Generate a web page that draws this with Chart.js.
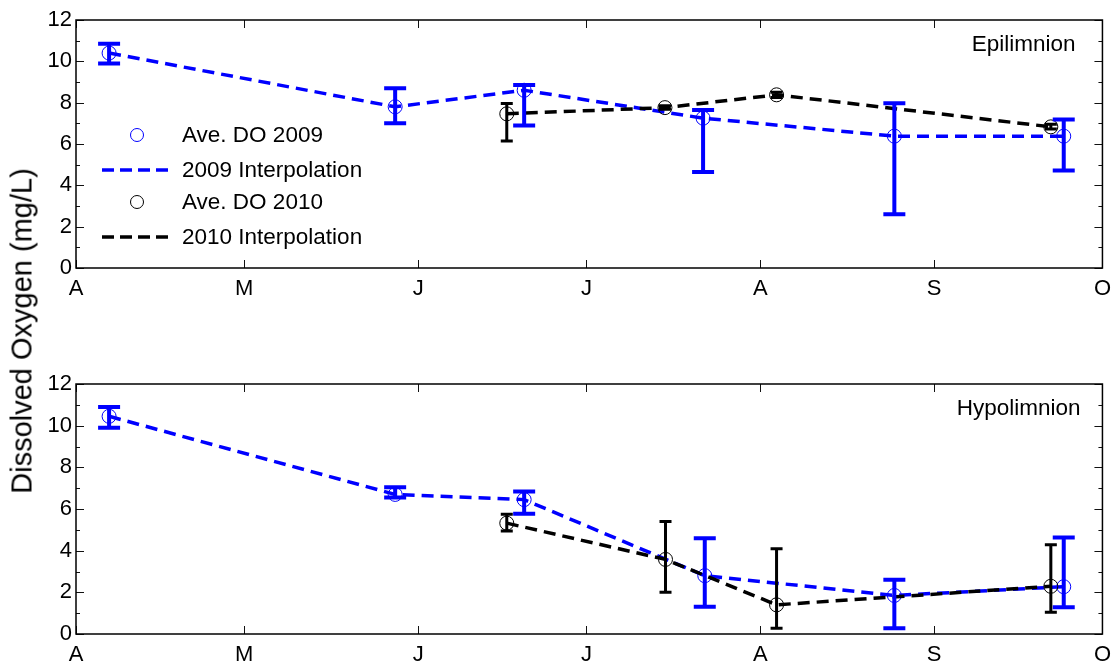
<!DOCTYPE html>
<html>
<head>
<meta charset="utf-8">
<script src="https://cdn.jsdelivr.net/npm/chart.js@4.4.1/dist/chart.umd.min.js"></script>
<style>
  html, body { margin: 0; padding: 0; background: #fff; }
  #wrap { position: relative; width: 1119px; height: 664px; }
  .panel { position: absolute; left: 0; }
  #epi-chart { top: 0; }
  #hypo-chart { top: 364px; }
  #ytitle {
    position: absolute; left: 22px; top: 331px;
    transform: translate(-50%, -50%) rotate(-90deg);
    font: 29px "Liberation Sans", Arial, sans-serif;
    white-space: nowrap; color: #000;
  }
</style>
</head>
<body>
<div id="wrap">
  <canvas id="epi-chart" class="panel" width="1119" height="300"></canvas>
  <canvas id="hypo-chart" class="panel" width="1119" height="300"></canvas>
  <div id="ytitle">Dissolved Oxygen (mg/L)</div>
</div>
<script>
// x axis: days after 1 April
const monthDays = [0, 30, 61, 91, 122, 153, 183];
const monthLabels = ["A", "M", "J", "J", "A", "S", "O"];
const legendLabels = ["Ave. DO 2009", "2009 Interpolation", "Ave. DO 2010", "2010 Interpolation"];

// Epilimnion
const epiDays2009 = [5.9, 56.9, 79.9, 111.8, 145.9, 176.1];
const epiDO2009 = [10.4, 7.8, 8.6, 7.25, 6.38, 6.38];
const epiLow2009 = [9.9, 7.0, 6.9, 4.65, 2.6, 4.72];
const epiHigh2009 = [10.85, 8.7, 8.85, 7.64, 7.97, 7.19];
const epiDays2010 = [76.8, 105.0, 124.9, 173.8];
const epiDO2010 = [7.46, 7.76, 8.38, 6.83];
const epiLow2010 = [6.14, 7.68, 8.25, 6.72];
const epiHigh2010 = [7.96, 7.85, 8.5, 6.95];

// Hypolimnion
const hypoDays2009 = [5.9, 56.9, 79.9, 112.1, 145.9, 176.1];
const hypoDO2009 = [10.45, 6.7, 6.45, 2.8, 1.85, 2.27];
const hypoLow2009 = [9.9, 6.55, 5.77, 1.31, 0.28, 1.28];
const hypoHigh2009 = [10.9, 7.05, 6.84, 4.6, 2.6, 4.63];
const hypoDays2010 = [76.8, 105.1, 124.9, 173.8];
const hypoDO2010 = [5.32, 3.58, 1.4, 2.29];
const hypoLow2010 = [4.95, 2.0, 0.28, 1.04];
const hypoHigh2010 = [5.75, 5.4, 4.09, 4.28];

const FONT = "'Liberation Sans', Arial, sans-serif";
const BLUE = "#0000ff";
const BLACK = "#000000";

const toPoints = (days, vals) => days.map((d, i) => ({ x: d, y: vals[i] }));

const errorBarPlugin = {
  id: "errorBars",
  afterDatasetsDraw(chart) {
    const { ctx, scales: { x, y } } = chart;
    const bars = chart.options.plugins.errorBars.sets;
    ctx.save();
    bars.forEach((set) => {
      ctx.strokeStyle = set.color;
      ctx.lineWidth = set.width;
      set.days.forEach((d, i) => {
        const px = x.getPixelForValue(d);
        const top = y.getPixelForValue(set.high[i]);
        const bot = y.getPixelForValue(set.low[i]);
        ctx.beginPath();
        ctx.moveTo(px, top);
        ctx.lineTo(px, bot);
        ctx.moveTo(px - set.cap, top);
        ctx.lineTo(px + set.cap, top);
        ctx.moveTo(px - set.cap, bot);
        ctx.lineTo(px + set.cap, bot);
        ctx.stroke();
      });
    });
    ctx.restore();
  },
};

const framePlugin = {
  id: "frame",
  afterDraw(chart) {
    const { ctx, chartArea: a, scales: { x, y } } = chart;
    const opts = chart.options.plugins.frame;
    ctx.save();
    ctx.strokeStyle = "#111";
    ctx.lineWidth = 1;
    // y ticks, inward on both sides
    ctx.beginPath();
    for (let v = 0; v <= 12; v++) {
      const py = Math.round(y.getPixelForValue(v)) + 0.5;
      const len = v % 2 === 0 ? 8 : 4;
      ctx.moveTo(a.left, py);
      ctx.lineTo(a.left + len, py);
      ctx.moveTo(a.right, py);
      ctx.lineTo(a.right - len, py);
    }
    // x ticks at month starts
    monthDays.forEach((d) => {
      const px = Math.round(x.getPixelForValue(d)) + 0.5;
      ctx.moveTo(px, a.top);
      ctx.lineTo(px, a.top + 8);
      ctx.moveTo(px, a.bottom);
      ctx.lineTo(px, a.bottom - 8);
    });
    ctx.stroke();
    ctx.lineWidth = 1.5;
    ctx.strokeStyle = "#000";
    ctx.strokeRect(a.left, a.top, a.right - a.left, a.bottom - a.top);

    // panel name
    ctx.fillStyle = "#000";
    ctx.font = "22.5px " + FONT;
    ctx.textAlign = "right";
    ctx.textBaseline = "middle";
    ctx.fillText(opts.name, a.right - opts.nameInset, a.top + 25);

    if (opts.legend) {
      const rows = [
        { kind: "marker", color: BLUE, y: 135 },
        { kind: "line", color: BLUE, y: 170 },
        { kind: "marker", color: BLACK, y: 202 },
        { kind: "line", color: BLACK, y: 237 },
      ];
      rows.forEach((r, i) => {
        ctx.strokeStyle = r.color;
        if (r.kind === "marker") {
          ctx.lineWidth = 1;
          ctx.setLineDash([]);
          ctx.beginPath();
          ctx.arc(137, r.y, 6.5, 0, Math.PI * 2);
          ctx.stroke();
        } else {
          ctx.lineWidth = 3.5;
          ctx.setLineDash([12, 6]);
          ctx.beginPath();
          ctx.moveTo(102, r.y);
          ctx.lineTo(171, r.y);
          ctx.stroke();
          ctx.setLineDash([]);
        }
        ctx.fillStyle = "#000";
        ctx.textAlign = "left";
        ctx.fillText(legendLabels[i], 182, r.y + 1);
      });
    }
    ctx.restore();
  },
};

function makePanel(canvasId, name, nameInset, withLegend, xHeight, s09, s10) {
  return new Chart(document.getElementById(canvasId), {
    type: "scatter",
    data: {
      datasets: [
        {
          label: legendLabels[3],
          data: toPoints(s10.days, s10.vals),
          showLine: true,
          borderColor: BLACK,
          borderWidth: 3.5,
          borderDash: [12, 7],
          pointRadius: 0,
          order: 0,
        },
        {
          label: legendLabels[2],
          data: toPoints(s10.days, s10.vals),
          showLine: false,
          pointRadius: 7,
          pointBorderWidth: 1,
          pointBorderColor: BLACK,
          pointBackgroundColor: "rgba(0,0,0,0)",
          order: 1,
        },
        {
          label: legendLabels[1],
          data: toPoints(s09.days, s09.vals),
          showLine: true,
          borderColor: BLUE,
          borderWidth: 3.5,
          borderDash: [12, 7],
          pointRadius: 0,
          order: 2,
        },
        {
          label: legendLabels[0],
          data: toPoints(s09.days, s09.vals),
          showLine: false,
          pointRadius: 7,
          pointBorderWidth: 1,
          pointBorderColor: BLUE,
          pointBackgroundColor: "rgba(0,0,0,0)",
          order: 3,
        },
      ],
    },
    options: {
      responsive: false,
      animation: false,
      devicePixelRatio: 1,
      layout: { padding: { top: 20, right: 11, left: 0, bottom: 0 } },
      scales: {
        x: {
          type: "linear",
          min: 0,
          max: 183,
          afterBuildTicks: (s) => {
            s.ticks = monthDays.map((v) => ({ value: v }));
          },
          afterFit: (s) => {
            s.height = xHeight;
          },
          ticks: {
            autoSkip: false,
            maxRotation: 0,
            padding: 8,
            color: "#000",
            font: { family: FONT, size: 22 },
            callback: (v, i) => monthLabels[i],
          },
          grid: { display: false, drawTicks: false },
          border: { display: false },
        },
        y: {
          min: 0,
          max: 12,
          afterFit: (s) => {
            s.width = 76;
          },
          ticks: {
            stepSize: 2,
            padding: 4,
            color: "#000",
            font: { family: FONT, size: 22 },
          },
          grid: { display: false, drawTicks: false },
          border: { display: false },
        },
      },
      plugins: {
        legend: { display: false },
        tooltip: { enabled: false },
        frame: { name, nameInset, legend: withLegend },
        errorBars: {
          sets: [
            { days: s09.days, low: s09.low, high: s09.high, color: BLUE, width: 4, cap: 11 },
            { days: s10.days, low: s10.low, high: s10.high, color: BLACK, width: 3, cap: 6 },
          ],
        },
      },
    },
    plugins: [errorBarPlugin, framePlugin],
  });
}

makePanel("epi-chart", "Epilimnion", 27, true, 32,
  { days: epiDays2009, vals: epiDO2009, low: epiLow2009, high: epiHigh2009 },
  { days: epiDays2010, vals: epiDO2010, low: epiLow2010, high: epiHigh2010 });

makePanel("hypo-chart", "Hypolimnion", 22, false, 30,
  { days: hypoDays2009, vals: hypoDO2009, low: hypoLow2009, high: hypoHigh2009 },
  { days: hypoDays2010, vals: hypoDO2010, low: hypoLow2010, high: hypoHigh2010 });
</script>
</body>
</html>
